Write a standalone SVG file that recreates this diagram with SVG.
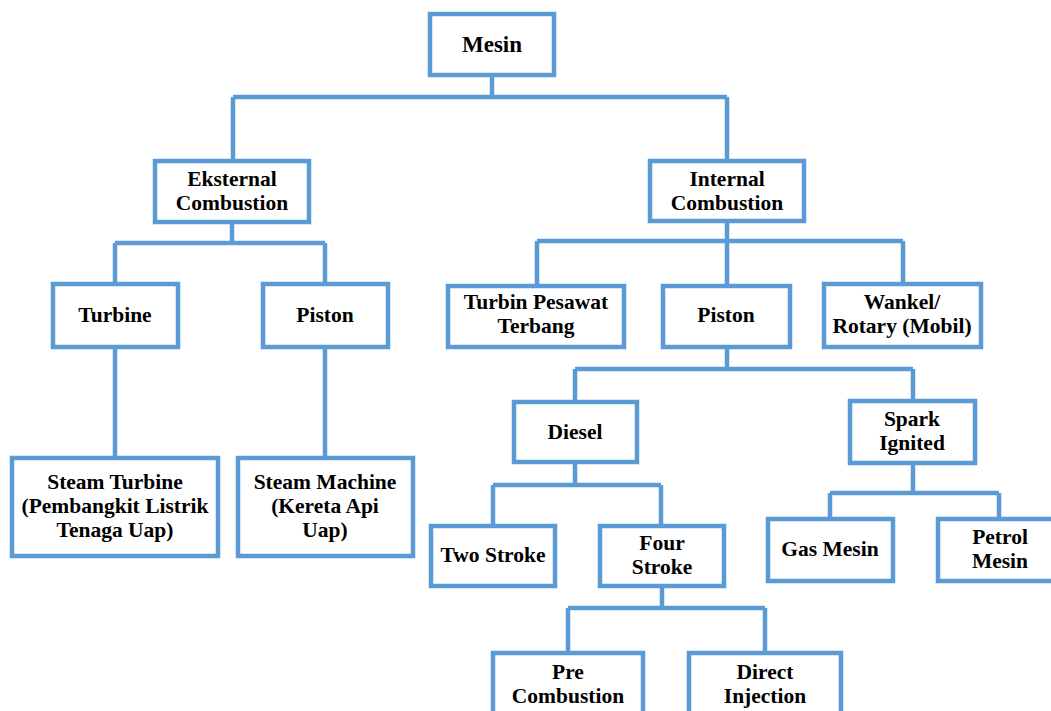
<svg xmlns="http://www.w3.org/2000/svg" width="1051" height="711" viewBox="0 0 1051 711">
<style>
.box{fill:#fff;stroke:#5B9BD5;stroke-width:4.5}
.ln{fill:none;stroke:#5B9BD5;stroke-width:4.5}
text{font-family:"Liberation Serif","Times New Roman",serif;font-weight:bold;font-size:21.5px;fill:#000;text-anchor:middle}
</style>
<rect width="1051" height="711" fill="#fff"/>
<g id="connectors" class="ln">
<path d="M492,75V97M233,97H727M233,97V161M727,97V161"/>
<path d="M232,222V243M115,243H325M115,243V284M325,243V284"/>
<path d="M115,347V458M325,347V458"/>
<path d="M727,221V241M537,241H903M537,241V286M727,241V286M903,241V284"/>
<path d="M727,347V369M575,369H913M575,369V402M913,369V401"/>
<path d="M575,462V485M493,485H661M493,485V526M661,485V526"/>
<path d="M913,463V493M830,493H999M830,493V519M999,493V519"/>
<path d="M662,586V608M568,608H765M568,608V653M765,608V653"/>
</g>
<g id="n-mesin"><rect class="box" x="430" y="14" width="124" height="61"/><text x="492" y="52" style="font-size:23px">Mesin</text></g>
<g id="n-eksternal"><rect class="box" x="155" y="161" width="154" height="61"/><text x="232" y="186">Eksternal</text><text x="232" y="210">Combustion</text></g>
<g id="n-internal"><rect class="box" x="650" y="161" width="154" height="60"/><text x="727" y="186">Internal</text><text x="727" y="210">Combustion</text></g>
<g id="n-turbine"><rect class="box" x="53" y="284" width="125" height="63"/><text x="115" y="322">Turbine</text></g>
<g id="n-piston-l"><rect class="box" x="263" y="284" width="125" height="63"/><text x="325" y="322">Piston</text></g>
<g id="n-steam-turbine"><rect class="box" x="12" y="458" width="206" height="98"/><text x="115" y="489">Steam Turbine</text><text x="115" y="513">(Pembangkit Listrik</text><text x="115" y="537">Tenaga Uap)</text></g>
<g id="n-steam-machine"><rect class="box" x="238" y="458" width="175" height="98"/><text x="325" y="489">Steam Machine</text><text x="325" y="513">(Kereta Api</text><text x="325" y="537">Uap)</text></g>
<g id="n-turbin-pesawat"><rect class="box" x="448" y="286" width="176" height="61"/><text x="536" y="309">Turbin Pesawat</text><text x="536" y="333">Terbang</text></g>
<g id="n-piston-r"><rect class="box" x="663" y="286" width="127" height="61"/><text x="726" y="322">Piston</text></g>
<g id="n-wankel"><rect class="box" x="824" y="284" width="157" height="63"/><text x="902" y="309">Wankel/</text><text x="902" y="333">Rotary (Mobil)</text></g>
<g id="n-diesel"><rect class="box" x="514" y="402" width="123" height="60"/><text x="575" y="439">Diesel</text></g>
<g id="n-spark"><rect class="box" x="850" y="401" width="125" height="62"/><text x="912" y="426">Spark</text><text x="912" y="450">Ignited</text></g>
<g id="n-two-stroke"><rect class="box" x="431" y="526" width="124" height="60"/><text x="493" y="562">Two Stroke</text></g>
<g id="n-four-stroke"><rect class="box" x="600" y="526" width="124" height="60"/><text x="662" y="550">Four</text><text x="662" y="574">Stroke</text></g>
<g id="n-gas"><rect class="box" x="768" y="519" width="125" height="62"/><text x="830" y="556">Gas Mesin</text></g>
<g id="n-petrol"><rect class="box" x="938" y="519" width="125" height="62"/><text x="1000" y="544">Petrol</text><text x="1000" y="568">Mesin</text></g>
<g id="n-pre"><rect class="box" x="493" y="653" width="150" height="70"/><text x="568" y="679">Pre</text><text x="568" y="703">Combustion</text></g>
<g id="n-direct"><rect class="box" x="689" y="653" width="152" height="70"/><text x="765" y="679">Direct</text><text x="765" y="703">Injection</text></g>
</svg>
